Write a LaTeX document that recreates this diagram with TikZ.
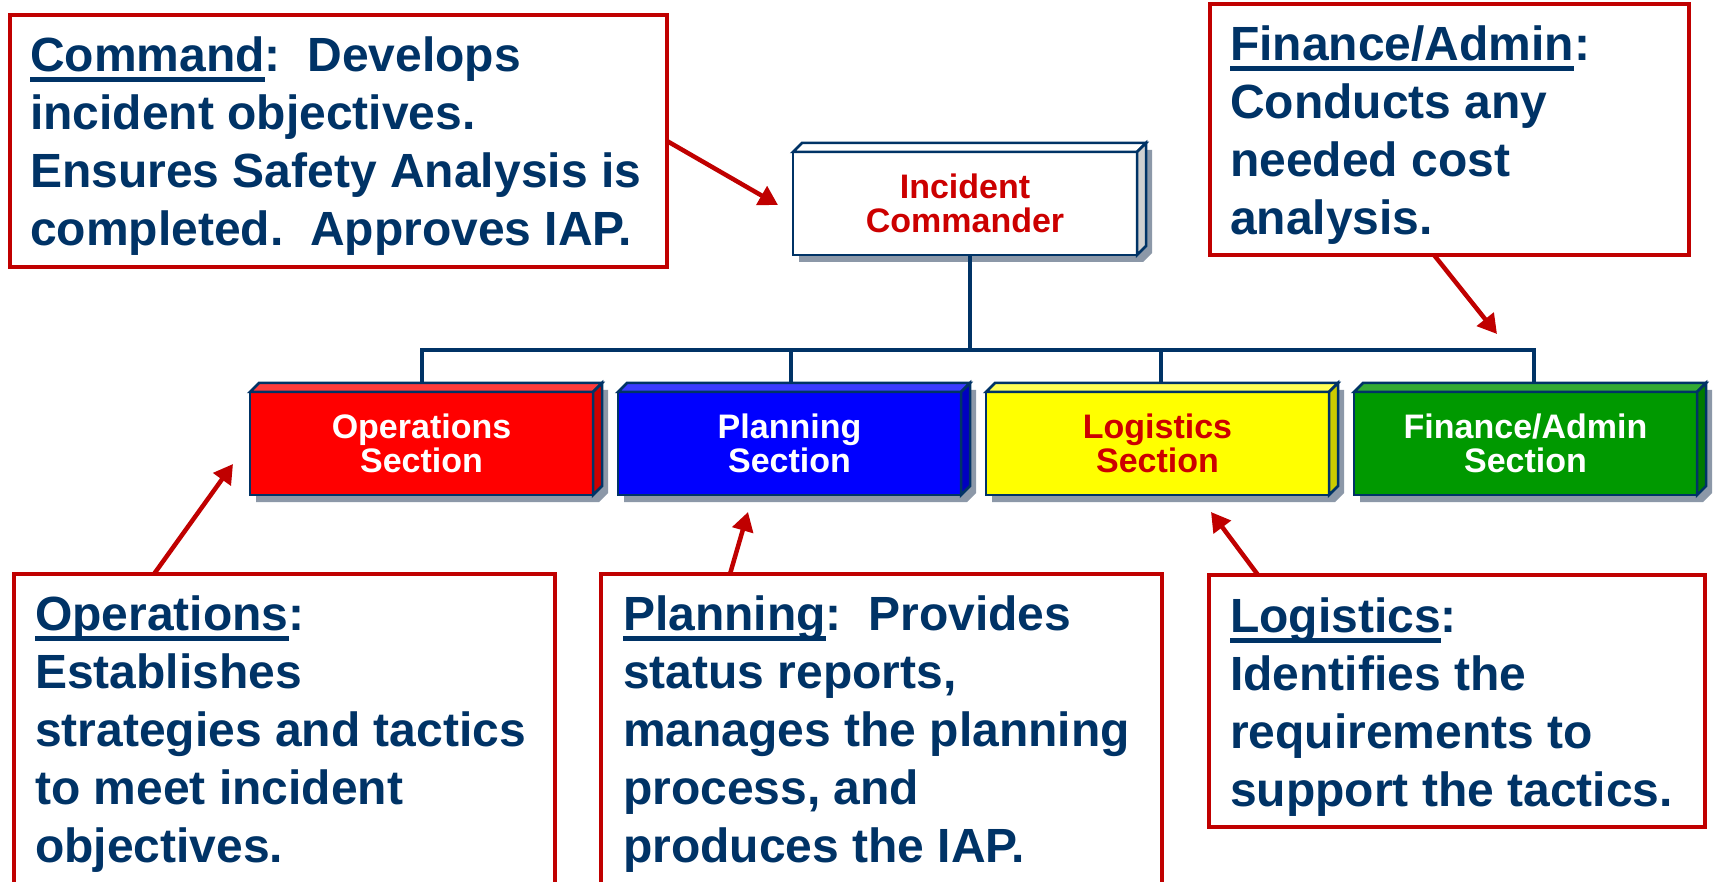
\documentclass[tikz,border=0pt]{standalone}
\usepackage{fontspec}
\setmainfont{Liberation Sans}
\usetikzlibrary{arrows.meta,backgrounds,calc}
\definecolor{navy}{HTML}{003366}
\definecolor{callred}{HTML}{C00000}
\definecolor{txtred}{HTML}{CC0000}
\definecolor{shadowgray}{HTML}{8C98A8}
\definecolor{opsfront}{HTML}{FF0000}
\definecolor{opstop}{HTML}{FF3B3B}
\definecolor{opsside}{HTML}{CC0000}
\definecolor{planfront}{HTML}{0000FF}
\definecolor{plantop}{HTML}{3B3BFF}
\definecolor{planside}{HTML}{0000C0}
\definecolor{logfront}{HTML}{FFFF00}
\definecolor{logtop}{HTML}{FFFF55}
\definecolor{logside}{HTML}{CCCC00}
\definecolor{finfront}{HTML}{009900}
\definecolor{fintop}{HTML}{33AA33}
\definecolor{finside}{HTML}{007A00}
\definecolor{icside}{HTML}{D0D0D0}
\newcommand\ulword[1]{\setbox0\hbox{#1}\rlap{\rule[-11pt]{\wd0}{5pt}}\box0}
\newcommand\facets[3]{%
  \begin{scope}[on background layer]
    \fill[shadowgray] ([shift={(6,7)}]#1.south west) -- ([shift={(6,7)}]#1.north west)
      -- ([shift={(15,-2)}]#1.north west) -- ([shift={(15,-2)}]#1.north east)
      -- ([shift={(15,-2)}]#1.south east) -- ([shift={(6,7)}]#1.south east) -- cycle;
  \end{scope}
  \filldraw[edge, fill=#2] (#1.north west) -- ([shift={(9,-9)}]#1.north west)
    -- ([shift={(9,-9)}]#1.north east) -- (#1.north east) -- cycle;
  \filldraw[edge, fill=#3] (#1.north east) -- ([shift={(9,-9)}]#1.north east)
    -- ([shift={(9,-9)}]#1.south east) -- (#1.south east) -- cycle;
}
\begin{document}
\begin{tikzpicture}[x=1pt,y=-1pt,
  edge/.style={draw=navy, line width=2.5pt, line join=miter},
  secbox/.style={edge, rectangle, minimum width=343pt, minimum height=103pt,
    inner sep=0pt, outer sep=0pt, align=center,
    font=\fontsize{34}{33.5}\selectfont\bfseries},
  callout/.style={draw=callred, line width=4pt, rectangle, inner sep=0pt,
    outer sep=0pt, anchor=north west},
  calltext/.style={anchor=north west, inner sep=0pt, align=left, text=navy,
    font=\fontsize{48}{58}\selectfont\bfseries},
  tree/.style={draw=navy, line width=4pt, line join=miter},
  callarrow/.style={draw=callred, line width=4.5pt,
    -{Triangle[length=19pt,width=21pt]}}]
\useasboundingbox (0,0) rectangle (1714,882);
\clip (0,0) rectangle (1714,882);
\begin{scope}[on background layer]
  \fill[white] (0,0) rectangle (1714,882);
\end{scope}

% Incident commander
\node[secbox, fill=white, minimum width=344pt, text=txtred] (ic) at (965,203.5) {Incident\\Commander};
\facets{ic}{white}{icside}

% Sections
\node[secbox, fill=opsfront, text=white] (ops) at (421.5,443.5) {Operations\\Section};
\facets{ops}{opstop}{opsside}
\node[secbox, fill=planfront, text=white] (plan) at (789.5,443.5) {Planning\\Section};
\facets{plan}{plantop}{planside}
\node[secbox, fill=logfront, text=txtred] (log) at (1157.5,443.5) {Logistics\\Section};
\facets{log}{logtop}{logside}
\node[secbox, fill=finfront, text=white] (fin) at (1525.5,443.5) {Finance/Admin\\Section};
\facets{fin}{fintop}{finside}

% Tree connectors
\coordinate (icd) at ([xshift=5pt]ic.south);
\coordinate (hub) at ([yshift=-95pt]icd);
\coordinate (dO) at ([yshift=9pt]ops.north);
\coordinate (dP) at ([xshift=1.5pt,yshift=9pt]plan.north);
\coordinate (dL) at ([xshift=3.5pt,yshift=9pt]log.north);
\coordinate (dF) at ([xshift=8.5pt,yshift=9pt]fin.north);
\draw[tree] (icd) -- (hub);
\draw[tree] (dO) -- (dO |- hub) -- (dF |- hub) -- (dF);
\draw[tree] (dP) -- (dP |- hub);
\draw[tree] (dL) -- (dL |- hub);

% Callout boxes
\node[callout, minimum width=657pt, minimum height=252pt] (cmdnote) at (10,15) {};
\node[calltext] (cmdtext) at (30,31) {\rule{0pt}{40pt}\ulword{Command}:\ \ Develops\\incident objectives.\\Ensures Safety Analysis is\\completed.\ \ Approves IAP.};

\node[callout, minimum width=479pt, minimum height=251pt] (finnote) at (1210,4) {};
\node[calltext] (fintext) at (1230,20) {\rule{0pt}{40pt}\ulword{Finance/Admin}:\\Conducts any\\needed cost\\analysis.};

\node[callout, minimum width=541pt, minimum height=340pt] (opsnote) at (14,574) {};
\node[calltext] (opstext) at (35,590) {\rule{0pt}{40pt}\ulword{Operations}:\\Establishes\\strategies and tactics\\to meet incident\\objectives.};

\node[callout, minimum width=561pt, minimum height=340pt] (plannote) at (601,574) {};
\node[calltext] (plantext) at (623,590) {\rule{0pt}{40pt}\ulword{Planning}:\ \ Provides\\status reports,\\manages the planning\\process, and\\produces the IAP.};

\node[callout, minimum width=496pt, minimum height=252pt] (lognote) at (1209,575) {};
\node[calltext] (logtext) at (1230,592) {\rule{0pt}{40pt}\ulword{Logistics}:\\Identifies the\\requirements to\\support the tactics.};

% Callout arrows
\coordinate (tipC) at (778,205);
\coordinate (tipF) at (1497,334);
\coordinate (tipO) at (233,464);
\coordinate (tipP) at (748,512);
\coordinate (tipL) at (1211,512);
\draw[callarrow] (cmdnote.east) -- (tipC);
\draw[callarrow] ([xshift=224pt]finnote.south west) -- (tipF);
\draw[callarrow] ([xshift=140pt]opsnote.north west) -- (tipO);
\draw[callarrow] ([xshift=129pt]plannote.north west) -- (tipP);
\draw[callarrow] ([xshift=49pt]lognote.north west) -- (tipL);
\end{tikzpicture}
\end{document}
